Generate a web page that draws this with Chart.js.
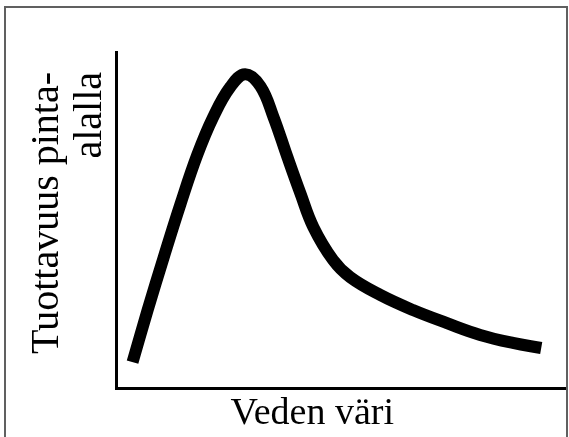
<!DOCTYPE html>
<html>
<head>
<meta charset="utf-8">
<script src="https://cdn.jsdelivr.net/npm/chart.js@4"></script>
<style>
  html, body { margin: 0; padding: 0; background: #fff; overflow: hidden; }
  #frame {
    position: absolute; left: 4px; top: 6px;
    width: 560px; height: 500px;
    border: 2px solid #606060;
  }
  #wrap { position: absolute; left: 0; top: 0; width: 569px; height: 437px; }
</style>
</head>
<body>
<div id="frame"></div>
<div id="wrap"><canvas id="mycanvas"></canvas></div>
<script>
// water colour (x) vs productivity per area (y), arbitrary units 0-100
var waterColour = [3.6, 6.9, 10.5, 14.3, 18.0, 21.6, 25.4, 28.7, 32.1, 35.0, 38.1, 41.0, 43.9, 48.3, 52.1, 58.8, 66.1, 73.7, 81.1, 88.4, 94.7];
var productivity = [7.7, 22.9, 38.7, 54.8, 69.3, 80.7, 89.6, 93.4, 89.8, 80.7, 68.8, 58.0, 47.9, 38.1, 33.0, 27.7, 23.2, 19.3, 15.8, 13.4, 11.9];
var xTitle = 'Veden väri';
var yTitle = ['Tuottavuus pinta-', 'alalla'];

var points = [];
for (var i in waterColour) {
	points.push({x: waterColour[i], y: productivity[i]});
}

var nb = '\u00a0';

var chartdata = {
	datasets: [
		{
			data: points,
			borderColor: '#000',
			borderWidth: 12,
			borderCapStyle: 'butt',
			borderJoinStyle: 'round',
			pointRadius: 0,
			fill: false,
			tension: 0.4
		}
	]
};

var ctx = document.getElementById('mycanvas');

var lineGraph = new Chart(ctx, {
	type: 'line',
	data: chartdata,
	options: {
		responsive: true,
		maintainAspectRatio: false,
		animation: false,
		layout: { padding: { left: 10, top: 52, right: 4, bottom: 4 } },
		plugins: { legend: { display: false }, tooltip: { enabled: false } },
		scales: {
			x: {
				type: 'linear',
				min: 0,
				max: 100,
				ticks: { display: false },
				grid: { display: false, drawTicks: false },
				border: { color: '#000', width: 3 },
				title: {
					display: true,
					text: xTitle + nb.repeat(6),
					color: '#000',
					font: { family: 'Liberation Serif', size: 38, lineHeight: 1 },
					padding: { top: 7, bottom: 0 }
				}
			},
			y: {
				min: 0,
				max: 100,
				ticks: { display: false },
				grid: { display: false, drawTicks: false },
				border: { color: '#000', width: 3 },
				title: {
					display: true,
					align: 'end',
					text: [yTitle[0] + nb + nb, yTitle[1] + nb + nb],
					color: '#000',
					font: { family: 'Liberation Serif', size: 40, lineHeight: 1.08 },
					padding: { top: 16, bottom: 4 }
				}
			}
		}
	}
});
</script>
</body>
</html>
